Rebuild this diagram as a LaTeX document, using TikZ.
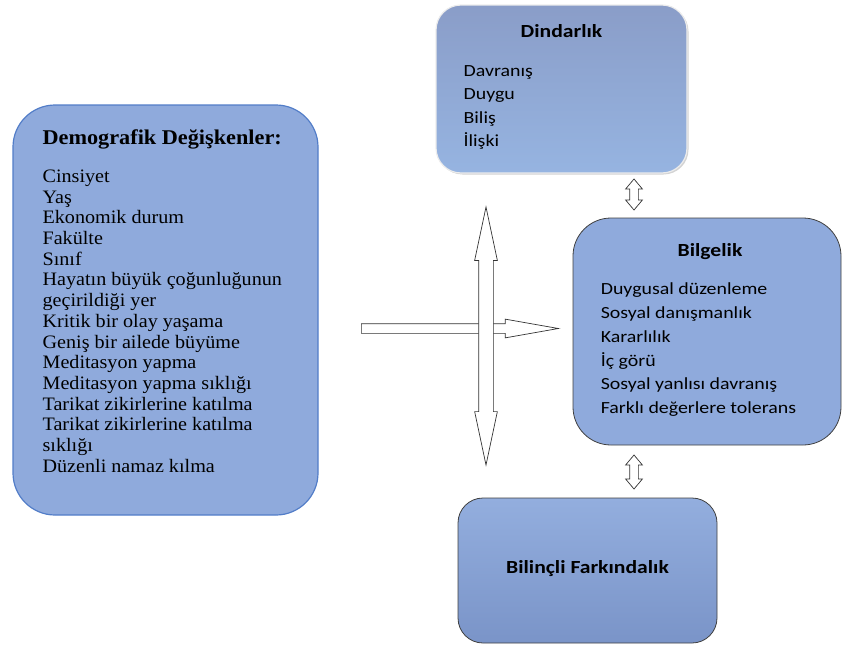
\documentclass[tikz,border=0pt]{standalone}
\usepackage{fontspec}
\setmainfont{Liberation Serif}[FakeStretch=1.06]
\newfontfamily\calib{Carlito}[FakeStretch=1.17]
\usetikzlibrary{shapes.arrows,shadows,calc}

\definecolor{boxblue}{RGB}{143,170,220}
\definecolor{boxline}{RGB}{82,125,200}
\definecolor{dindtop}{RGB}{138,157,200}
\definecolor{dindbot}{RGB}{150,180,225}
\definecolor{farktop}{RGB}{147,174,222}
\definecolor{farkbot}{RGB}{122,148,200}

\tikzset{
  demobox/.style={draw=boxline,line width=1.2pt,fill=boxblue,rounded corners=42pt,inner sep=0pt},
  dindbox/.style={draw=white!85!gray,line width=1.2pt,top color=dindtop,bottom color=dindbot,
    rounded corners=25pt,inner sep=0pt,drop shadow={opacity=0.35,shadow xshift=1.5pt,shadow yshift=-1.5pt}},
  bilgbox/.style={draw=black!75,line width=0.8pt,fill=boxblue,rounded corners=38pt,inner sep=0pt},
  farkbox/.style={draw=black!75,line width=0.8pt,top color=farktop,bottom color=farkbot,rounded corners=25pt,inner sep=0pt},
  serifitem/.style={anchor=base west,inner sep=0pt,font=\fontsize{19}{21}\selectfont},
  sansitem/.style={anchor=base west,inner sep=0pt,font=\calib\fontsize{17}{20}\selectfont},
  sanstitle/.style={anchor=base,inner sep=0pt,font=\calib\bfseries\fontsize{18.5}{21}\selectfont},
  hollow/.style={draw=black!80,line width=0.7pt,fill=white,inner xsep=0pt},
}

\begin{document}
\begin{tikzpicture}[x=1pt,y=-1pt]
  \useasboundingbox (0,0) rectangle (843,645);

  % boxes
  \node[demobox,minimum width=305pt,minimum height=410pt] (demog) at (165.5,310) {};
  \node[dindbox,minimum width=251pt,minimum height=168pt] (dind) at (561.5,89) {};
  \node[bilgbox,minimum width=268pt,minimum height=227pt] (bilg) at (707,331.5) {};
  \node[farkbox,minimum width=259pt,minimum height=145pt] (fark) at (587.5,570.5) {};

  % Demografik
  \node[serifitem,font=\bfseries\fontsize{21}{22}\selectfont] (demogt) at ([shift={(30,40)}]demog.north west) {Demografik Değişkenler:};
  \foreach \t [count=\i from 0] in {Cinsiyet,Yaş,Ekonomik durum,Fakülte,Sınıf,
      Hayatın büyük çoğunluğunun,geçirildiği yer,Kritik bir olay yaşama,
      Geniş bir ailede büyüme,Meditasyon yapma,Meditasyon yapma sıklığı,
      Tarikat zikirlerine katılma,Tarikat zikirlerine katılma,sıklığı,
      Düzenli namaz kılma}
    \node[serifitem] (dm\i) at ([shift={(30,78+20.7*\i)}]demog.north west) {\t};

  % Dindarlik
  \node[sanstitle] (dindt) at ([yshift=-33pt]dind.north) {Dindarlık};
  \foreach \t [count=\i from 0] in {Davranış,Duygu,Biliş,İlişki}
    \node[sansitem] (dn\i) at ([shift={(28,72+23.3*\i)}]dind.north west) {\t};

  % Bilgelik
  \node[sanstitle] (bilgt) at ([shift={(3,39)}]bilg.north) {Bilgelik};
  \foreach \t [count=\i from 0] in {Duygusal düzenleme,Sosyal danışmanlık,Kararlılık,
      İç görü,Sosyal yanlısı davranış,Farklı değerlere tolerans}
    \node[sansitem] (bl\i) at ([shift={(28,77+23.8*\i)}]bilg.north west) {\t};

  % Bilincli Farkindalik
  \node[sanstitle] (farkt) at ([yshift=-2.5pt]fark.center) {Bilinçli Farkındalık};

  % arrows
  \node[hollow,single arrow,anchor=tail,inner ysep=4.5pt,minimum height=197pt,minimum width=18pt,
    single arrow head extend=4.5pt,single arrow tip angle=20] (harr) at (361,328.5) {};
  \node[hollow,double arrow,rotate=90,inner ysep=7pt,minimum height=258pt,minimum width=22pt,
    double arrow head extend=4pt,double arrow tip angle=24] (varr) at (486,336) {};
  \node[hollow,double arrow,rotate=90,inner ysep=4pt,minimum height=31pt,minimum width=16pt,
    double arrow head extend=4pt,double arrow tip angle=80] (dbarr) at (634,194.5) {};
  \node[hollow,double arrow,rotate=90,inner ysep=4pt,minimum height=34pt,minimum width=16pt,
    double arrow head extend=4pt,double arrow tip angle=80] (bfarr) at (634,472) {};
\end{tikzpicture}
\end{document}
